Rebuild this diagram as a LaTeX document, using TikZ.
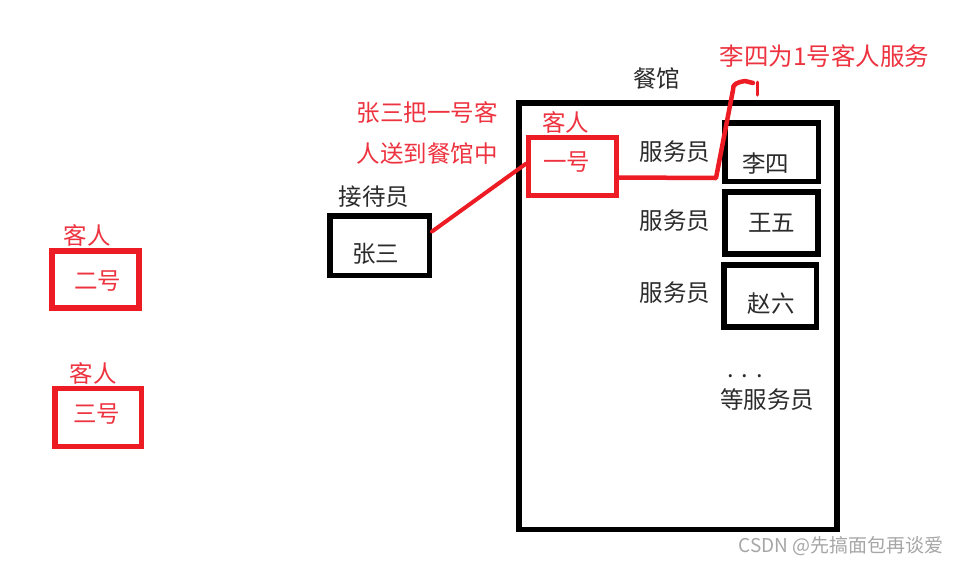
\documentclass[tikz,border=0pt]{standalone}
\usepackage{fontspec}
\setmainfont{Noto Sans CJK SC}
\definecolor{paintred}{HTML}{ED1C24}
\definecolor{notered}{HTML}{EE3340}
\definecolor{ink}{HTML}{2B2B2B}
\definecolor{markgray}{HTML}{A6A6A6}
\newcommand{\nudge}[3]{\hspace*{#1pt}\raisebox{#2pt}[\height][\depth]{#3}}
\begin{document}
\begin{tikzpicture}[x=1pt,y=-1pt,font=\fontsize{23.5}{28}\selectfont,
    blackbox/.style={draw=black,line width=5.5pt,inner sep=0pt,text=ink},
    redbox/.style={draw=paintred,line width=5.5pt,inner sep=0pt,text=notered},
    word/.style={inner sep=0pt,text=ink},
    redword/.style={inner sep=0pt,text=notered},
    redline/.style={draw=paintred,line width=4pt,line cap=round,line join=round}]
    \useasboundingbox[fill=white] (0,0) rectangle (961,566);

    \node[blackbox,minimum width=318,minimum height=426.5]
        (restaurant) at (677.75,316) {};
    \node[word] (restaurant-label) at (656.5,78.5) {餐馆};
    \node[redword,font=\fontsize{24.5}{30}\selectfont]
        (serve-label) at (824.5,56) {李四为1号客人服务};

    \node[redbox,minimum width=88,minimum height=58]
        (guest-one) at (572.7,166.7) {\nudge{-12}{4.5}{一号}};
    \node[redword] (guest-one-label) at (565.5,122) {客人};

    \node[blackbox,minimum width=99.5,minimum height=59.5]
        (zhangsan) at (379.5,245.5) {\nudge{-8}{-8.5}{张三}};
    \node[word] (host-label) at (374,197) {接待员};
    \node[redword,align=left,font=\fontsize{23.5}{41}\selectfont]
        (send-label) at (427,132.5) {张三把一号客\\人送到餐馆中};
    \draw[redline] ([yshift=14pt]zhangsan.east)
        -- ([yshift=3pt]guest-one.west);

    \node[blackbox,minimum width=93.5,minimum height=58.5]
        (lisi) at (771.5,152) {\nudge{-12}{-11.5}{李四}};
    \node[blackbox,minimum width=93,minimum height=62]
        (wangwu) at (771.5,223) {王五};
    \node[blackbox,minimum width=92.5,minimum height=62]
        (zhaoliu) at (770,296) {\nudge{2}{-8}{赵六}};
    \node[word] (waiter-a) at (675,152) {服务员};
    \node[word] (waiter-b) at (675,221) {服务员};
    \node[word] (waiter-c) at (675,293) {服务员};
    \node[word] (dots) at (745,376) {.\,\,.\,\,.};
    \node[word] (more-waiters) at (767,400) {等服务员};

    \coordinate (bend) at (716,178);
    \coordinate (hook) at (733,90);
    \coordinate (hook-end) at (753,83);
    \draw[redline,line width=4.5pt] ([yshift=-10.8pt]guest-one.east) -- (bend)
        -- (hook) .. controls (732,84) and (738,82) .. (745,81) -- (hook-end);
    \draw[redline,line width=3pt] (757,82) -- (757,95);

    \node[redbox,minimum width=87,minimum height=57]
        (guest-two) at (95.3,279.5) {\nudge{5}{-2}{二号}};
    \node[redword] (guest-two-label) at (87,235) {客人};
    \node[redbox,minimum width=86.5,minimum height=58]
        (guest-three) at (98.3,417.3) {\nudge{-3}{3.3}{三号}};
    \node[redword] (guest-three-label) at (93,373) {客人};

    \node[inner sep=0pt,text=markgray,font=\fontsize{19}{22}\selectfont]
        (watermark) at (841,546) {CSDN @先搞面包再谈爱};
\end{tikzpicture}
\end{document}
